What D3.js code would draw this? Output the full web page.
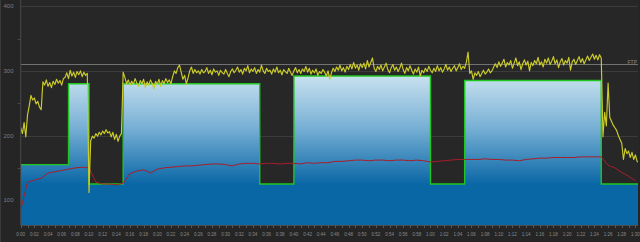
<!DOCTYPE html>
<html>
<head>
<meta charset="utf-8">
<script src="https://cdn.jsdelivr.net/npm/d3@7"></script>
<style>
  html, body { margin: 0; padding: 0; background: #252525; }
  svg { display: block; font-family: "Liberation Sans", Arial, sans-serif; }
</style>
</head>
<body>
<svg id="chart" width="640" height="242"></svg>
<script>
// workout target blocks (start minute, watts)
const blockStart = [0, 7, 10, 15, 35, 40, 60, 65, 85];
const blockWatts = [155, 280, 125, 280, 125, 292, 125, 285, 125];
const workoutEnd = 90.5;
const ftp = 310;

// power, one sample every 0.25 min
const powerStep = 0.25;
const power = [
  212, 203, 220, 198, 232, 246, 262, 255, 258, 249, 253, 244, 240, 283, 278, 286, 276, 282, 274, 284,
  279, 287, 281, 285, 278, 288, 290, 297, 288, 301, 292, 298, 290, 299, 294, 300, 291, 298, 293, 296,
  112, 192, 199, 196, 203, 199, 205, 201, 207, 203, 209, 204, 206, 198, 205, 194, 202, 191, 199, 203,
  298, 290, 280, 286, 278, 284, 279, 288, 281, 276, 285, 280, 287, 274, 283, 278, 286, 281, 272, 284,
  279, 287, 276, 285, 280, 288, 282, 286, 280, 291, 300, 296, 305, 309, 298, 287, 293, 280, 289, 300,
  306, 296, 302, 297, 300, 295, 302, 297, 299, 305, 296, 301, 294, 303, 298, 300, 293, 301, 297, 295,
  302, 296, 291, 299, 303, 297, 301, 306, 298, 302, 295, 304, 300, 308, 297, 303, 299, 305, 296, 302,
  298, 309, 300, 296, 304, 299, 301, 295, 303, 298, 306, 297, 301, 294, 302, 299, 296, 304, 298, 293,
  300, 305, 297, 302, 296, 303, 299, 307, 298, 304, 295, 301, 297, 303, 293, 299, 296, 302, 298, 292,
  300, 287, 297, 304, 299, 306, 301, 309, 300, 305, 298, 307, 302, 310, 303, 313, 304, 309, 301, 311,
  305, 312, 303, 316, 306, 313, 320, 304, 299, 307, 302, 309, 300, 306, 312, 302, 297, 305, 310, 301,
  306, 299, 304, 312, 302, 296, 305, 300, 308, 301, 295, 303, 298, 306, 292, 301, 297, 304, 299, 307,
  301, 297, 304, 299, 308, 300, 305, 298, 303, 310, 301, 306, 299, 304, 308, 300, 305, 311, 302, 307,
  304, 313, 329, 296, 300, 287, 297, 293, 299, 291, 296, 301, 295, 298, 303, 297, 300, 306, 311, 305,
  314, 307, 312, 318, 306, 313, 309, 316, 304, 312, 320, 308, 314, 302, 311, 317, 309, 315, 300, 313,
  308, 316, 311, 321, 309, 314, 306, 318, 312, 320, 310, 315, 322, 311, 317, 305, 314, 319, 309, 316,
  312, 321, 301, 314, 318, 310, 316, 322, 313, 319, 311, 317, 323, 316, 321, 326, 318, 324, 317, 325,
  320, 198, 236, 215, 281, 228, 222, 216, 212, 208, 200, 194, 188, 163, 180, 172, 176, 166, 174, 163,
  170, 160, 158
];

// heart rate, one sample per minute
const hrStep = 1;
const heartRate = [
  85, 128, 131, 134, 142, 144, 146, 148, 150, 151,
  150, 128, 125, 125, 124, 126, 141, 145, 147, 142,
  148, 150, 151, 152, 153, 153, 154, 155, 156, 156,
  155, 153, 156, 157, 157, 156, 157, 157, 156, 157,
  157, 156, 158, 157, 158, 158, 160, 160, 161, 162,
  162, 161, 162, 162, 161, 162, 162, 161, 162, 161,
  159, 160, 161, 162, 163, 163, 163, 163, 164, 163,
  163, 162, 162, 161, 163, 164, 165, 165, 166, 166,
  166, 166, 167, 167, 167, 167, 154, 150, 143, 137,
  130
];

const yTicks = [100, 200, 300, 400];
const yMinorTicks = [150, 250, 350];

const width = 640, height = 242;
const plotLeft = 20.7, plotRight = 638, plotBottom = 225;

const svg = d3.select("#chart");

const x = d3.scaleLinear().domain([0, 90]).range([plotLeft, 635.4]);
const y = d3.scaleLinear().domain([100, 400]).range([200.2, 6.2]);

// background
svg.append("rect").attr("width", width).attr("height", height).attr("fill", "#252525");
svg.append("rect").attr("x", plotLeft).attr("y", 0)
  .attr("width", plotRight - plotLeft).attr("height", plotBottom)
  .attr("fill", "#272727");
svg.append("line").attr("x1", 0.5).attr("x2", 0.5).attr("y1", 0).attr("y2", height)
  .attr("stroke", "#3a3a3a");

const defs = svg.append("defs");
const grad = defs.append("linearGradient")
  .attr("id", "workoutFill")
  .attr("gradientUnits", "userSpaceOnUse")
  .attr("x1", 0).attr("x2", 0)
  .attr("y1", y(300)).attr("y2", y(125));
grad.append("stop").attr("offset", 0).attr("stop-color", "#d0e6f1");
grad.append("stop").attr("offset", 0.5).attr("stop-color", "#78b0d5");
grad.append("stop").attr("offset", 1).attr("stop-color", "#0a67a6");

defs.append("clipPath").attr("id", "plotClip")
  .append("rect").attr("x", plotLeft).attr("y", 0)
  .attr("width", plotRight - plotLeft).attr("height", plotBottom);

// grid lines
svg.append("g").selectAll("line")
  .data(yTicks)
  .join("line")
  .attr("x1", plotLeft).attr("x2", plotRight)
  .attr("y1", d => Math.round(y(d)) + 0.5).attr("y2", d => Math.round(y(d)) + 0.5)
  .attr("stroke", "#3b3b3b");

// workout blocks
const blocks = blockStart.map((s, i) => ({ t: s, w: blockWatts[i] }));
blocks.push({ t: workoutEnd, w: blockWatts[blockWatts.length - 1] });

const plot = svg.append("g").attr("clip-path", "url(#plotClip)");

plot.append("path")
  .datum(blocks)
  .attr("fill", "url(#workoutFill)")
  .attr("d", d3.area().curve(d3.curveStepAfter)
    .x(d => x(d.t)).y0(plotBottom).y1(d => y(d.w)));

plot.append("path")
  .datum(blocks)
  .attr("fill", "none")
  .attr("stroke", "#1fc61f")
  .attr("stroke-width", 1.4)
  .attr("d", d3.line().curve(d3.curveStepAfter).x(d => x(d.t)).y(d => y(d.w)));

// FTP line
plot.append("line")
  .attr("x1", plotLeft).attr("x2", plotRight)
  .attr("y1", Math.round(y(ftp)) + 0.5).attr("y2", Math.round(y(ftp)) + 0.5)
  .attr("stroke", "#727272");

svg.append("text")
  .attr("x", 637).attr("y", Math.round(y(ftp)) - 0.5)
  .attr("text-anchor", "end")
  .attr("font-size", "5px")
  .attr("fill", "#8a8a8a")
  .text("FTP");

// heart rate
plot.append("path")
  .datum(heartRate)
  .attr("fill", "none")
  .attr("stroke", "#a81e2a")
  .attr("stroke-width", 1)
  .attr("d", d3.line().x((d, i) => x(i * hrStep)).y(d => y(d)));

// power
plot.append("path")
  .datum(power)
  .attr("fill", "none")
  .attr("stroke", "#cccc2a")
  .attr("stroke-width", 1.15)
  .attr("stroke-linejoin", "round")
  .attr("d", d3.line().x((d, i) => x(i * powerStep)).y(d => y(d)));

// y axis
svg.append("line")
  .attr("x1", plotLeft).attr("x2", plotLeft).attr("y1", 0).attr("y2", plotBottom)
  .attr("stroke", "#4a4a4a");

svg.append("g").selectAll("text")
  .data(yTicks)
  .join("text")
  .attr("x", 13.5).attr("y", d => y(d) + 2)
  .attr("text-anchor", "end")
  .attr("font-size", "6px")
  .attr("fill", "#7d7d7d")
  .text(d => d);

svg.append("g").selectAll("line")
  .data(yMinorTicks)
  .join("line")
  .attr("x1", plotLeft - 3).attr("x2", plotLeft)
  .attr("y1", d => Math.round(y(d)) + 0.5).attr("y2", d => Math.round(y(d)) + 0.5)
  .attr("stroke", "#4a4a4a");

// x axis
svg.append("line")
  .attr("x1", plotLeft).attr("x2", plotRight)
  .attr("y1", plotBottom + 0.5).attr("y2", plotBottom + 0.5)
  .attr("stroke", "#4a4a4a");

svg.append("g").selectAll("line")
  .data(d3.range(0, 91, 1))
  .join("line")
  .attr("x1", d => Math.round(x(d)) + 0.5).attr("x2", d => Math.round(x(d)) + 0.5)
  .attr("y1", plotBottom).attr("y2", plotBottom + 3)
  .attr("stroke", "#555");

const fmt = m => `${Math.floor(m / 60)}:${String(m % 60).padStart(2, "0")}`;
svg.append("g").selectAll("text")
  .data(d3.range(0, 91, 2))
  .join("text")
  .attr("x", d => x(d)).attr("y", 235.5)
  .attr("text-anchor", "middle")
  .attr("font-size", "4.5px")
  .attr("fill", "#8a8a8a")
  .text(fmt);
</script>
</body>
</html>
